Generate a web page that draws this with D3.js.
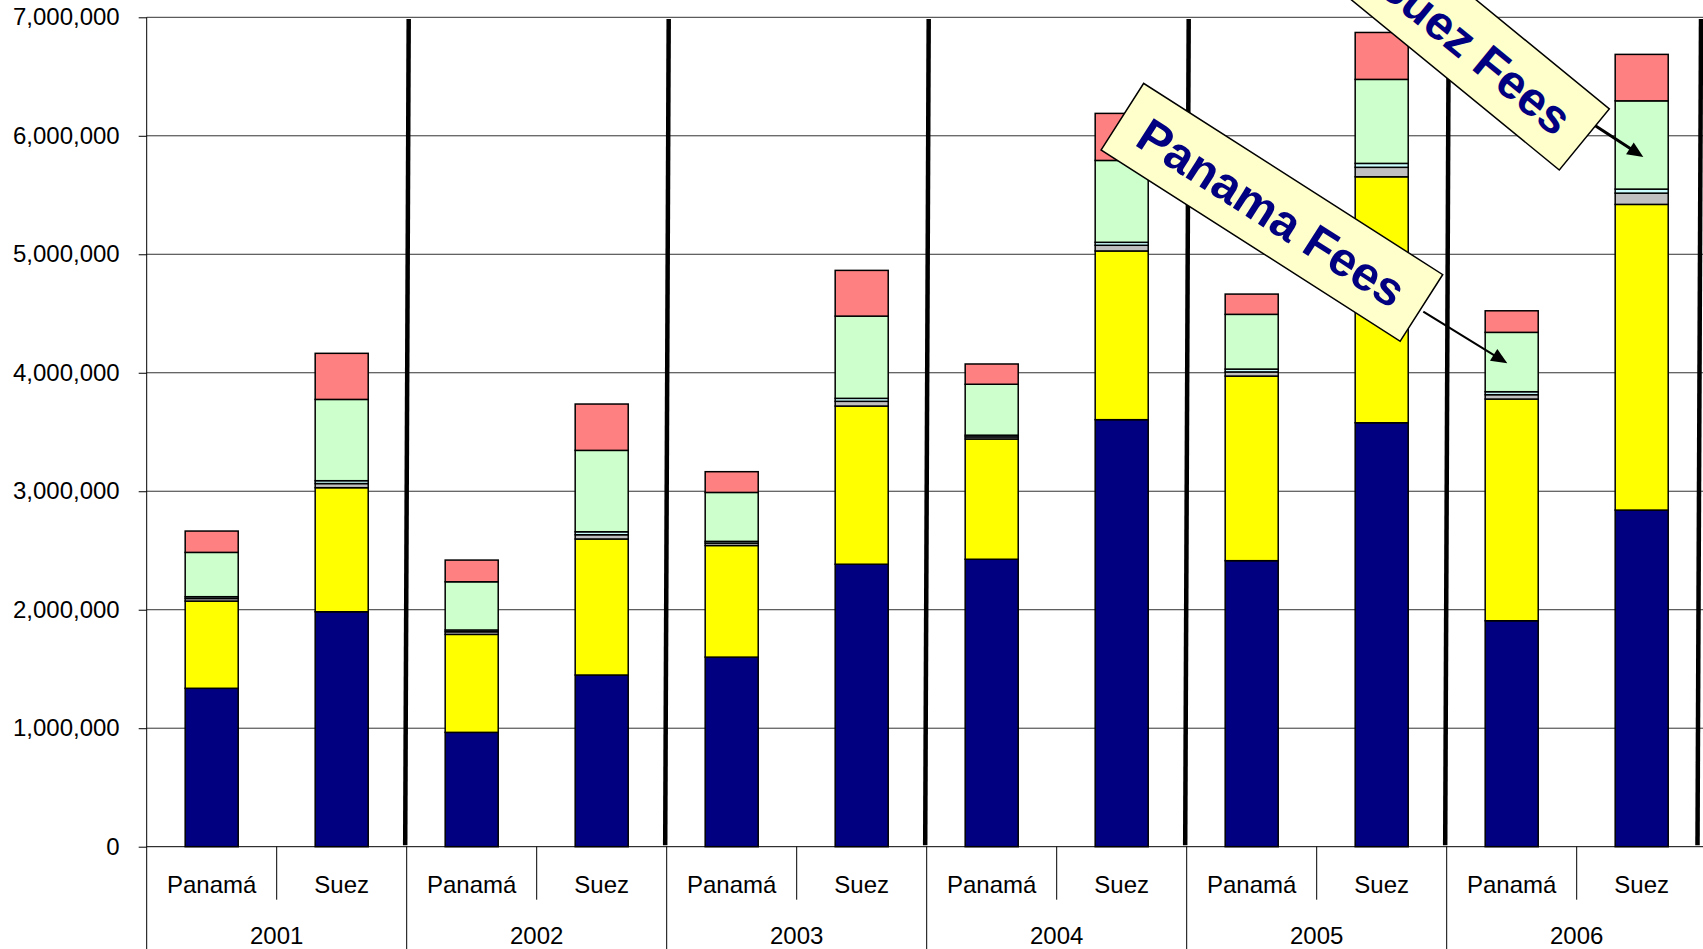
<!DOCTYPE html>
<html>
<head>
<meta charset="utf-8">
<script src="https://cdn.jsdelivr.net/npm/d3@7"></script>
<style>
  body { margin: 0; background: #fff; }
  svg { display: block; font-family: 'Liberation Sans', Arial, sans-serif; }
</style>
</head>
<body>
<svg id="chart"></svg>
<script>
const years = ['2001', '2002', '2003', '2004', '2005', '2006']
const canals = ['Panamá', 'Suez']

// one value per bar: 2001 Panamá, 2001 Suez, 2002 Panamá, 2002 Suez, ...
const navySeries = [1337000, 1983000, 965000, 1449000, 1600000, 2384000, 2426000, 3604000, 2414000, 3578000, 1907000, 2841000]
const yellowSeries = [736000, 1047000, 827000, 1148000, 942000, 1335000, 1015000, 1424000, 1558000, 2076000, 1871000, 2580000]
const graySeries = [22000, 35000, 22000, 36000, 20000, 40000, 18000, 48000, 35000, 80000, 37000, 95000]
const cyanSeries = [15000, 24000, 15000, 25000, 15000, 25000, 14000, 25000, 24000, 33000, 25000, 34000]
const greenSeries = [374000, 686000, 407000, 687000, 413000, 694000, 430000, 691000, 462000, 709000, 501000, 745000]
const salmonSeries = [180000, 389000, 183000, 391000, 175000, 386000, 171000, 397000, 171000, 396000, 182000, 392000]

const yTicks = [0, 1000000, 2000000, 3000000, 4000000, 5000000, 6000000, 7000000]

const callouts = [
  { text: 'Panama Fees', year: '2006', canal: 'Panamá', value: 4080000 },
  { text: 'Suez Fees', year: '2006', canal: 'Suez', value: 5820000 },
]

const keys = ['navy', 'yellow', 'gray', 'cyan', 'green', 'salmon']
const colors = { navy: '#000080', yellow: '#FFFF00', gray: '#C0C0C0', cyan: '#CCFFFF', green: '#CCFFCC', salmon: '#FF8080' }

const rows = navySeries.map((v, i) => ({
  year: years[Math.floor(i / 2)],
  canal: canals[i % 2],
  navy: v,
  yellow: yellowSeries[i],
  gray: graySeries[i],
  cyan: cyanSeries[i],
  green: greenSeries[i],
  salmon: salmonSeries[i],
}))

const width = 1703
const height = 949
const margin = { top: 17.3, left: 146.7, bottom: 102.3 }
const plotRight = margin.left + 1560
const baseY = height - margin.bottom

const svg = d3.select('#chart').attr('width', width).attr('height', height)

const x0 = d3.scaleBand().domain(years).range([margin.left, plotRight])
const x1 = d3.scaleBand().domain(canals).range([0, x0.bandwidth()]).paddingInner(0.592).paddingOuter(0.296)
const y = d3.scaleLinear().domain([0, 7000000]).range([baseY, margin.top])

// gridlines
svg.append('g')
  .selectAll('line')
  .data(yTicks.slice(1))
  .join('line')
  .attr('x1', margin.left)
  .attr('x2', plotRight)
  .attr('y1', (d) => y(d))
  .attr('y2', (d) => y(d))
  .attr('stroke', '#333')
  .attr('stroke-width', 1)

// stacked bars
const stacked = d3.stack().keys(keys)(rows)
svg.append('g')
  .selectAll('g')
  .data(stacked)
  .join('g')
  .attr('fill', (s) => colors[s.key])
  .selectAll('rect')
  .data((s) => s)
  .join('rect')
  .attr('x', (d) => x0(d.data.year) + x1(d.data.canal))
  .attr('width', x1.bandwidth())
  .attr('y', (d) => y(d[1]))
  .attr('height', (d) => y(d[0]) - y(d[1]))
  .attr('stroke', '#000')
  .attr('stroke-width', 1.5)

// thick separators between years
svg.append('g')
  .selectAll('line')
  .data(years)
  .join('line')
  .attr('x1', (d) => Math.min(x0(d) + x0.bandwidth(), width - 4) + 2)
  .attr('x2', (d) => Math.min(x0(d) + x0.bandwidth(), width - 4) - 1.5)
  .attr('y1', y(7000000) + 1.7)
  .attr('y2', baseY - 1.5)
  .attr('stroke', '#000')
  .attr('stroke-width', 4.5)

// y axis
const yAxisG = svg.append('g')
  .attr('transform', `translate(${margin.left},0)`)
  .call(d3.axisLeft(y).tickValues(yTicks).tickFormat(d3.format(',')).tickSize(8).tickPadding(19))
yAxisG.select('.domain').remove()
yAxisG.selectAll('.tick line').attr('stroke', '#000')
yAxisG.selectAll('.tick text').attr('font-size', 24).attr('fill', '#000')
  .attr('font-family', "'Liberation Sans', Arial, sans-serif")

svg.append('line')
  .attr('x1', margin.left).attr('x2', margin.left)
  .attr('y1', margin.top).attr('y2', height)
  .attr('stroke', '#000')

// x axis baseline
svg.append('line')
  .attr('x1', margin.left).attr('x2', plotRight)
  .attr('y1', baseY).attr('y2', baseY)
  .attr('stroke', '#000')

const xAxisG = svg.append('g')

// dividers between canals and between years
xAxisG.selectAll('line.mid')
  .data(years)
  .join('line')
  .attr('class', 'mid')
  .attr('x1', (d) => x0(d) + x0.bandwidth() / 2)
  .attr('x2', (d) => x0(d) + x0.bandwidth() / 2)
  .attr('y1', baseY)
  .attr('y2', baseY + 53)
  .attr('stroke', '#000')

xAxisG.selectAll('line.yr')
  .data(years)
  .join('line')
  .attr('class', 'yr')
  .attr('x1', (d) => x0(d) + x0.bandwidth())
  .attr('x2', (d) => x0(d) + x0.bandwidth())
  .attr('y1', baseY)
  .attr('y2', height)
  .attr('stroke', '#000')

xAxisG.selectAll('text.canal')
  .data(rows)
  .join('text')
  .attr('class', 'canal')
  .attr('x', (d) => x0(d.year) + x1(d.canal) + x1.bandwidth() / 2)
  .attr('y', baseY + 46.5)
  .attr('text-anchor', 'middle')
  .attr('font-size', 24)
  .text((d) => d.canal)

xAxisG.selectAll('text.year')
  .data(years)
  .join('text')
  .attr('class', 'year')
  .attr('x', (d) => x0(d) + x0.bandwidth() / 2)
  .attr('y', baseY + 97.5)
  .attr('text-anchor', 'middle')
  .attr('font-size', 24)
  .text((d) => d)

// callout boxes with arrows
const calloutLayout = [
  { angle: 32.6, w: 355, h: 79, dx: -235.4, dy: -151, ax: -84, ay: -51.7, tipDx: -4.4, lw: 2 },
  { angle: 39.3, w: 283, h: 79, dx: -168.5, dy: -107.3, ax: -49.5, ay: -32.3, tipDx: 1.6, lw: 3 },
]

callouts.forEach((c, i) => {
  const L = calloutLayout[i]
  const tx = x0(c.year) + x1(c.canal) + x1.bandwidth() / 2 + L.tipDx
  const ty = y(c.value)
  const sx = tx + L.ax
  const sy = ty + L.ay
  const len = Math.hypot(tx - sx, ty - sy)
  const ux = (tx - sx) / len
  const uy = (ty - sy) / len
  const head = 16
  const half = 7

  svg.append('line')
    .attr('x1', sx).attr('y1', sy)
    .attr('x2', tx - ux * head * 0.8).attr('y2', ty - uy * head * 0.8)
    .attr('stroke', '#000')
    .attr('stroke-width', L.lw)

  svg.append('polygon')
    .attr('points', [
      [tx, ty],
      [tx - ux * head - uy * half, ty - uy * head + ux * half],
      [tx - ux * head + uy * half, ty - uy * head - ux * half],
    ].map((p) => p.join(',')).join(' '))
    .attr('fill', '#000')

  const box = svg.append('g')
    .attr('transform', `translate(${tx + L.dx},${ty + L.dy}) rotate(${L.angle})`)
  box.append('rect')
    .attr('x', -L.w / 2).attr('y', -L.h / 2)
    .attr('width', L.w).attr('height', L.h)
    .attr('fill', '#FFFFCC')
    .attr('stroke', '#000')
    .attr('stroke-width', 1.5)
  box.append('text')
    .attr('text-anchor', 'middle')
    .attr('dy', '0.36em')
    .attr('font-size', 48)
    .attr('font-weight', 'bold')
    .attr('fill', '#000080')
    .text(c.text)
})
</script>
</body>
</html>
